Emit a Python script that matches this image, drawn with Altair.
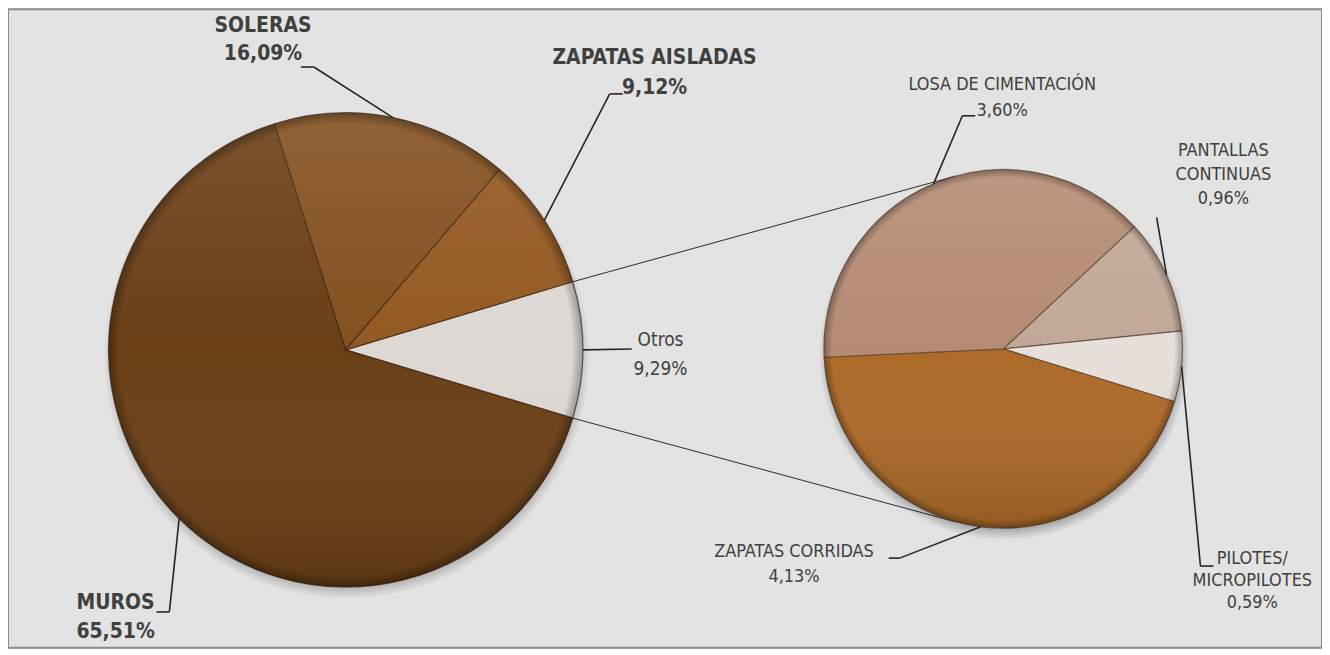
import math
import altair as alt
import pandas as pd

# ---------------- data ----------------
main_names = ["Otros", "MUROS", "SOLERAS", "ZAPATAS AISLADAS"]
main_values = [9.29, 65.51, 16.09, 9.12]
sub_names = ["PANTALLAS CONTINUAS", "PILOTES/ MICROPILOTES", "ZAPATAS CORRIDAS", "LOSA DE CIMENTACIÓN"]
sub_values = [0.96, 0.59, 4.13, 3.60]

# ---------------- style ----------------
main_colors = ["#DDD8D4", "#6A3F16", "#84501F", "#935922"]
sub_colors = ["#C1A898", "#E6DFDA", "#AD6A28", "#B58B73"]
main_bold = [False, True, True, True]
sub_label_lines = [["PANTALLAS", "CONTINUAS"], ["PILOTES/", "MICROPILOTES"],
                   ["ZAPATAS CORRIDAS"], ["LOSA DE CIMENTACIÓN"]]
FONT = "'DejaVu Sans Condensed', 'Liberation Sans Narrow', sans-serif"
TEXT_COLOR = "#404040"
BG = "#E3E3E3"

# ---------------- layout (page pixels) ----------------
OFF = 8
W, H = 1319, 641
MAIN_C, MAIN_R = (347, 350), 238
SUB_C, SUB_R = (1007, 349), 180
MAIN_START = math.pi / 2 - math.pi * main_values[0] / sum(main_values)
SUB_START = math.radians(47)

# first-line centre x, y and line spacing
main_label_pos = [(663, 340, 29), (116, 604, 29), (264, 25, 28), (657, 57, 30)]
main_leader = [[(634, 349)], [(170, 613), (157, 613)], [(315, 66), (302, 66)], [(612, 93), (625, 93)]]
sub_label_pos = [(1228, 150, 24.5), (1257, 560, 22), (797, 553, 25), (1006, 84, 26)]
sub_leader = [[(1161, 217)], [(1205, 567), (1218, 567)], [(903, 559), (892, 559)], [(966, 115), (979, 115)]]


def pct(v):
    return f"{v:.2f}".replace(".", ",") + "%"


def on_circle(c, r, th):
    return (c[0] + r * math.sin(th), c[1] - r * math.cos(th))


def mid_angles(values, start):
    tot = sum(values)
    acc = 0.0
    out = []
    for v in values:
        a0 = start + 2 * math.pi * acc / tot
        acc += v
        a1 = start + 2 * math.pi * acc / tot
        out.append(((a0 + a1) / 2, a0, a1))
    return out


def tangent_points(p, c, r):
    dx, dy = p[0] - c[0], p[1] - c[1]
    d = math.hypot(dx, dy)
    b = math.atan2(dy, dx)
    a = math.acos(r / d)
    return [(c[0] + r * math.cos(b + a), c[1] + r * math.sin(b + a)),
            (c[0] + r * math.cos(b - a), c[1] + r * math.sin(b - a))]


main_ang = mid_angles(main_values, MAIN_START)
sub_ang = mid_angles(sub_values, SUB_START)

# ---------------- segments ----------------
segs = []


def add_poly(pts, kind):
    for (x1, y1), (x2, y2) in zip(pts[:-1], pts[1:]):
        segs.append({"x": x1 - OFF, "y": y1 - OFF, "x2": x2 - OFF, "y2": y2 - OFF, "kind": kind})


for i, (m, a0, a1) in enumerate(main_ang):
    add_poly([on_circle(MAIN_C, MAIN_R, m)] + main_leader[i], "leader")
for i, (m, a0, a1) in enumerate(sub_ang):
    add_poly([on_circle(SUB_C, SUB_R, m)] + sub_leader[i], "leader")

_, o0, o1 = main_ang[0]
top_corner = on_circle(MAIN_C, MAIN_R, o0)
bot_corner = on_circle(MAIN_C, MAIN_R, o1)
t_top = min(tangent_points(top_corner, SUB_C, SUB_R), key=lambda q: q[1])
t_bot = max(tangent_points(bot_corner, SUB_C, SUB_R), key=lambda q: q[1])
add_poly([top_corner, t_top], "conn")
add_poly([bot_corner, t_bot], "conn")
seg_df = pd.DataFrame(segs)

# ---------------- labels ----------------
rows = []
for i, name in enumerate(main_names):
    x0, y0, sp = main_label_pos[i]
    for j, line in enumerate([name, pct(main_values[i])]):
        rows.append({"x": x0 - OFF, "y": y0 + j * sp - OFF, "t": line,
                     "bold": main_bold[i], "fs": 21 if main_bold[i] else 19})
for i, name in enumerate(sub_names):
    x0, y0, sp = sub_label_pos[i]
    for j, line in enumerate(sub_label_lines[i] + [pct(sub_values[i])]):
        rows.append({"x": x0 - OFF, "y": y0 + j * sp - OFF, "t": line, "bold": False, "fs": 18})
lab_df = pd.DataFrame(rows)

main_df = pd.DataFrame({"name": main_names, "value": main_values, "order": range(len(main_names))})
sub_df = pd.DataFrame({"name": sub_names, "value": sub_values, "order": range(len(sub_names))})
one = pd.DataFrame({"k": [0]})

X = alt.X("x:Q", scale=alt.Scale(domain=[0, W], nice=False, zero=False), axis=None)
Y = alt.Y("y:Q", scale=alt.Scale(domain=[H, 0], nice=False, zero=False), axis=None)


def pie(df, names, colors, c, r, start, stroke):
    return alt.Chart(df).mark_arc(outerRadius=r, stroke=stroke, strokeWidth=1.2, strokeOpacity=0.7).encode(
        theta=alt.Theta("value:Q", stack=True,
                        scale=alt.Scale(range=[start, start + 2 * math.pi])),
        order=alt.Order("order:Q"),
        color=alt.Color("name:N", scale=alt.Scale(domain=names, range=colors), legend=None),
        x=alt.value(c[0] - OFF), y=alt.value(c[1] - OFF),
    )


def shadow(c, r):
    g = alt.RadialGradient(gradient="radial", x1=0.5, y1=0.5, r1=0, x2=0.5, y2=0.5, r2=0.5,
                           stops=[alt.GradientStop(offset=0, color="rgba(0,0,0,0.28)"),
                                  alt.GradientStop(offset=0.94, color="rgba(0,0,0,0.25)"),
                                  alt.GradientStop(offset=1, color="rgba(0,0,0,0)")])
    return alt.Chart(one).mark_arc(outerRadius=r + 6, theta=0, theta2=2 * math.pi, fill=g).encode(
        x=alt.value(c[0] + 1 - OFF), y=alt.value(c[1] + 6 - OFF))


def shade(c, r):
    g = alt.LinearGradient(gradient="linear", x1=0, y1=0, x2=0, y2=1,
                           stops=[alt.GradientStop(offset=0, color="rgba(255,255,255,0.10)"),
                                  alt.GradientStop(offset=0.5, color="rgba(255,255,255,0)"),
                                  alt.GradientStop(offset=1, color="rgba(0,0,0,0.14)")])
    return alt.Chart(one).mark_arc(outerRadius=r, theta=0, theta2=2 * math.pi, fill=g).encode(
        x=alt.value(c[0] - OFF), y=alt.value(c[1] - OFF))


def rim(c, r):
    g = alt.RadialGradient(gradient="radial", x1=0.5, y1=0.5, r1=0, x2=0.5, y2=0.5, r2=0.5,
                           stops=[alt.GradientStop(offset=0, color="rgba(0,0,0,0)"),
                                  alt.GradientStop(offset=0.955, color="rgba(0,0,0,0)"),
                                  alt.GradientStop(offset=1, color="rgba(0,0,0,0.30)")])
    return alt.Chart(one).mark_arc(outerRadius=r, theta=0, theta2=2 * math.pi, fill=g).encode(
        x=alt.value(c[0] - OFF), y=alt.value(c[1] - OFF))


conn = alt.Chart(seg_df).transform_filter("datum.kind == 'conn'").mark_rule(
    color="#2b2b2b", strokeWidth=1).encode(x=X, y=Y, x2="x2:Q", y2="y2:Q")
lead = alt.Chart(seg_df).transform_filter("datum.kind == 'leader'").mark_rule(
    color="#262626", strokeWidth=1.6).encode(x=X, y=Y, x2="x2:Q", y2="y2:Q")

txt_reg = alt.Chart(lab_df).transform_filter("!datum.bold").mark_text(
    font=FONT, color=TEXT_COLOR, align="center", baseline="middle").encode(
    x=X, y=Y, text="t:N", size=alt.Size("fs:Q", scale=None))
txt_bold = alt.Chart(lab_df).transform_filter("datum.bold").mark_text(
    font=FONT, fontWeight="bold", color=TEXT_COLOR, align="center", baseline="middle").encode(
    x=X, y=Y, text="t:N", size=alt.Size("fs:Q", scale=None))

chart = alt.layer(
    conn,
    shadow(MAIN_C, MAIN_R), shadow(SUB_C, SUB_R),
    pie(main_df, main_names, main_colors, MAIN_C, MAIN_R, MAIN_START, "#3a2410"),
    pie(sub_df, sub_names, sub_colors, SUB_C, SUB_R, SUB_START, "#5a4232"),
    shade(MAIN_C, MAIN_R), shade(SUB_C, SUB_R),
    rim(MAIN_C, MAIN_R), rim(SUB_C, SUB_R),
    lead, txt_reg, txt_bold,
).resolve_scale(
    theta="independent", color="independent"
).properties(
    width=W, height=H,
    autosize=alt.AutoSizeParams(type="fit", contains="padding"),
    padding={"left": 0, "top": 0, "right": 0, "bottom": 0},
    background=BG,
).configure_view(stroke="#8C8C8C", strokeWidth=2)

chart.save("out.html", embed_options={"renderer": "svg", "actions": False})
